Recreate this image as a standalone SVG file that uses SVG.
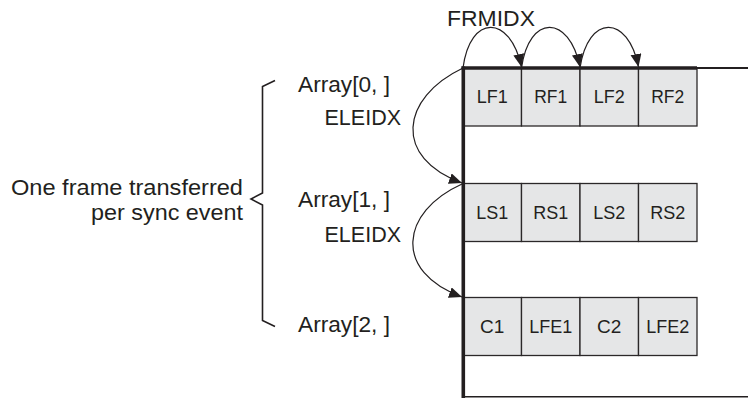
<svg xmlns="http://www.w3.org/2000/svg" width="748" height="398" viewBox="0 0 748 398">
<defs>
<marker id="ah" markerUnits="userSpaceOnUse" markerWidth="14" markerHeight="12" refX="13" refY="5.5" orient="auto">
<path d="M0,0 L13,5.5 L0,11 z" fill="#231f20"/>
</marker>
<style>
text{font-family:"Liberation Sans",Arial,sans-serif;fill:#231f20}
.lbl{font-size:21.5px}
.cell rect{fill:#e5e6e7;stroke:#2b2829;stroke-width:1.3}
.cell text{font-size:19px;text-anchor:middle}
.arc{fill:none;stroke:#231f20;stroke-width:1.2;marker-end:url(#ah)}
</style>
</defs>
<rect width="748" height="398" fill="#fff"/>

<g id="row0" class="cell">
<rect x="463" y="68" width="58.5" height="58"/><rect x="521.5" y="68" width="58.5" height="58"/><rect x="580" y="68" width="58.5" height="58"/><rect x="638.5" y="68" width="58.5" height="58"/>
<text x="492.2" y="103" textLength="31" lengthAdjust="spacingAndGlyphs">LF1</text><text x="550.7" y="103" textLength="33" lengthAdjust="spacingAndGlyphs">RF1</text><text x="609.2" y="103" textLength="31" lengthAdjust="spacingAndGlyphs">LF2</text><text x="667.7" y="103" textLength="33" lengthAdjust="spacingAndGlyphs">RF2</text>
</g>
<g id="row1" class="cell">
<rect x="463" y="183.5" width="58.5" height="58"/><rect x="521.5" y="183.5" width="58.5" height="58"/><rect x="580" y="183.5" width="58.5" height="58"/><rect x="638.5" y="183.5" width="58.5" height="58"/>
<text x="492.2" y="219" textLength="32" lengthAdjust="spacingAndGlyphs">LS1</text><text x="550.7" y="219" textLength="35" lengthAdjust="spacingAndGlyphs">RS1</text><text x="609.2" y="219" textLength="32" lengthAdjust="spacingAndGlyphs">LS2</text><text x="667.7" y="219" textLength="35" lengthAdjust="spacingAndGlyphs">RS2</text>
</g>
<g id="row2" class="cell">
<rect x="463" y="297.5" width="58.5" height="58"/><rect x="521.5" y="297.5" width="58.5" height="58"/><rect x="580" y="297.5" width="58.5" height="58"/><rect x="638.5" y="297.5" width="58.5" height="58"/>
<text x="492.2" y="333">C1</text><text x="550.7" y="333" textLength="43" lengthAdjust="spacingAndGlyphs">LFE1</text><text x="609.2" y="333">C2</text><text x="667.7" y="333" textLength="43" lengthAdjust="spacingAndGlyphs">LFE2</text>
</g>

<g id="frame" stroke="#231f20" fill="none">
<line x1="463.3" y1="66.5" x2="463.3" y2="398" stroke-width="3.6"/>
<line x1="461.5" y1="68" x2="697" y2="68" stroke-width="3.6"/>
<line x1="697" y1="68" x2="748" y2="68" stroke-width="1.8"/>
<line x1="463" y1="396.8" x2="748" y2="396.8" stroke-width="1.6"/>
</g>

<g id="labels" class="lbl">
<text x="447" y="26" textLength="88" lengthAdjust="spacingAndGlyphs">FRMIDX</text>
<text x="298" y="91.5" textLength="92" lengthAdjust="spacingAndGlyphs">Array[0, ]</text>
<text x="401" y="125" text-anchor="end">ELEIDX</text>
<text x="298" y="206.5" textLength="92" lengthAdjust="spacingAndGlyphs">Array[1, ]</text>
<text x="401" y="241.5" text-anchor="end">ELEIDX</text>
<text x="298" y="331.5" textLength="92" lengthAdjust="spacingAndGlyphs">Array[2, ]</text>
</g>

<g id="note">
<text x="243" y="195" text-anchor="end" font-size="22" textLength="232" lengthAdjust="spacingAndGlyphs">One frame transferred</text>
<text x="243" y="220" text-anchor="end" font-size="22" textLength="152" lengthAdjust="spacingAndGlyphs">per sync event</text>
<path d="M275,80.5 L262.5,86.5 L262.5,193 L251,199 L262.5,205 L262.5,320.5 L275,326.5" fill="none" stroke="#231f20" stroke-width="1.6" stroke-linejoin="miter"/>
</g>

<g id="connectors">
<path class="arc" d="M463,68 C470,14 510,14 521.5,67"/>
<path class="arc" d="M521.5,68 C529,14 569,14 580,67"/>
<path class="arc" d="M580,68 C588,14 628,14 638.5,67"/>
<path class="arc" d="M463,68 C400,98 393,158 462,183"/>
<path class="arc" d="M462,184 C400,212 393,272 462,297"/>
</g>
</svg>
